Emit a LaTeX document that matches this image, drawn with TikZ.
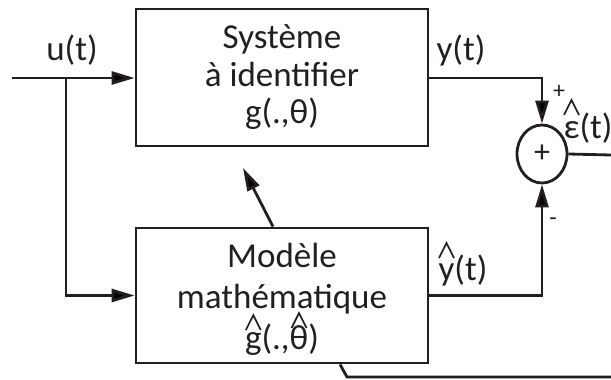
\documentclass[tikz,border=0pt]{standalone}
\usepackage{fontspec}
\setmainfont{Carlito}
\usetikzlibrary{arrows.meta,shapes.geometric}
\definecolor{ink}{RGB}{35,31,32}
\newcommand{\hatmark}{\tikz[x=1pt,y=1pt,baseline=0pt]\draw[draw=ink,line width=1.7pt,line cap=butt,line join=miter] (0,0) -- (7.5,15) -- (15,0);}
\newcommand{\hatof}[2][22]{\leavevmode\ooalign{#2\cr\hidewidth\smash{\raisebox{#1pt}{\hatmark}}\hidewidth\cr}}
\tikzset{
  blockbox/.style={draw=ink, line width=2.8pt, minimum width=292pt, align=center, inner sep=0pt, text=ink},
  conn/.style={draw=ink, line width=2.8pt},
  arr/.style={conn, -{Triangle[length=23pt,width=13pt]}},
  lbl/.style={text=ink, inner sep=0pt, anchor=base},
}
\begin{document}
\begin{tikzpicture}[x=1pt,y=-1pt, font=\fontsize{35}{38}\selectfont]
\useasboundingbox (0,0) rectangle (611,380);
\node[blockbox, minimum height=137pt, font=\fontsize{35}{37.5}\selectfont] (sys) at (282,77.5) {Système\\à identifier\\g(.,θ)};
\node[blockbox, minimum height=135pt, font=\fontsize{35}{41}\selectfont] (mod) at (282,295.5) {\rule{0pt}{30pt}Modèle\\mathématique\\\hatof[19]{g}(.,\hatof[21]{θ})};
\node[draw=ink, line width=2.8pt, ellipse, minimum width=50pt, minimum height=58pt, inner sep=0pt, text=ink, font=\fontsize{32}{32}\selectfont] (sum) at (542,154) {+};
\coordinate (in) at (12,78);
\coordinate (br) at (66,78);
\coordinate (out) at (611,155);
\coordinate (adj) at (243,168);
\coordinate (fb) at (347,377);
\coordinate (fbend) at (611,377);
\draw[arr] (in) -- (sys.west |- in);
\draw[arr] (br) |- (mod.west);
\draw[arr] (sys.east |- in) -| (sum.north);
\draw[arr] (mod.east) -| (sum.south);
\draw[conn] (sum.east) -- (out);
\draw[arr] ([xshift=-9pt]mod.north) -- (adj);
\draw[conn] ([xshift=58pt]mod.south) -- (fb) -- (fbend);
\node[lbl] (lu) at (72,60) {u(t)};
\node[lbl] (ly) at (461,60) {y(t)};
\node[lbl] (lyh) at (463,280) {\hatof[22]{y}(t)};
\node[lbl] (leps) at (588,138) {\hatof[23]{ε}(t)};
\node[text=ink, inner sep=0pt, font=\fontsize{24}{24}\selectfont] (lplus) at (559,92) {+};
\node[text=ink, inner sep=0pt, font=\fontsize{24}{24}\selectfont] (lminus) at (553,222) {-};
\end{tikzpicture}
\end{document}
